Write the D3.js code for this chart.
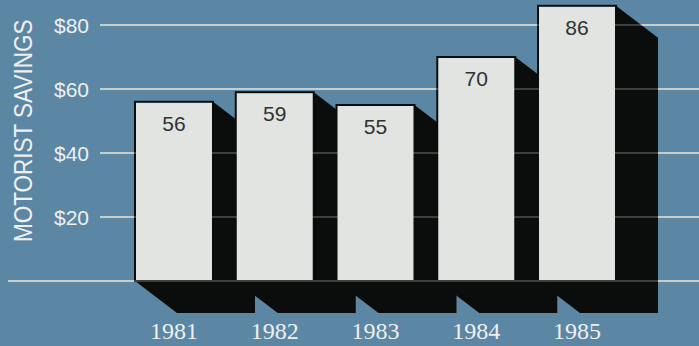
<!DOCTYPE html>
<html>
<head>
<meta charset="utf-8">
<script src="https://cdn.jsdelivr.net/npm/d3@7"></script>
<style>
  html, body { margin: 0; padding: 0; background: #5b86a4; }
  svg { display: block; }
</style>
</head>
<body>
<svg id="chart" width="699" height="346"></svg>
<script>
// ---- data ----
const years = ["1981", "1982", "1983", "1984", "1985"];
const savings = [56, 59, 55, 70, 86];
const tickValues = [20, 40, 60, 80];
const tickLabels = ["$20", "$40", "$60", "$80"];
const axisTitle = "MOTORIST SAVINGS";

const W = 699, H = 346;
const svg = d3.select("#chart");

svg.append("rect").attr("width", W).attr("height", H).attr("fill", "#5b86a4");

const x = d3.scaleBand().domain(years).range([135, 616]).paddingInner(0.226).paddingOuter(0);
const y = d3.scaleLinear().domain([0, 80]).range([281, 25]);

const dx = 42, dy = 32;
const data = years.map((yr, i) => ({ year: yr, value: savings[i] }));
const gridColor = "#ece6d6";

function drawGrid(g, opacity) {
  g.selectAll("line.grid").data(tickValues).join("line")
    .attr("class", "grid")
    .attr("x1", 100).attr("x2", W)
    .attr("y1", d => y(d)).attr("y2", d => y(d))
    .attr("stroke", gridColor).attr("stroke-width", 1.5).attr("opacity", opacity);
  g.append("line")
    .attr("x1", 8).attr("x2", W).attr("y1", y(0)).attr("y2", y(0))
    .attr("stroke", gridColor).attr("stroke-width", 1.5).attr("opacity", opacity);
}
drawGrid(svg.append("g"), 0.9);

// shadows
svg.append("g").selectAll("path").data(data).join("path")
  .attr("d", d => {
    const x0 = x(d.year), x1 = x(d.year) + x.bandwidth();
    const top = y(d.value), base = y(0);
    return `M${x0},${top}L${x1},${top}L${x1 + dx},${top + dy}L${x1 + dx},${base + dy}L${x0 + dx},${base + dy}L${x0},${base}Z`;
  })
  .attr("fill", "#0b0d0d");

// bars
svg.append("g").selectAll("rect").data(data).join("rect")
  .attr("x", d => x(d.year))
  .attr("y", d => y(d.value))
  .attr("width", x.bandwidth())
  .attr("height", d => y(0) - y(d.value))
  .attr("fill", "#e2e4e2")
  .attr("stroke", "#0b0d0d")
  .attr("stroke-width", 2);

// gridlines faint on top
drawGrid(svg.append("g"), 0.3);

// value labels
svg.append("g").selectAll("text").data(data).join("text")
  .attr("x", d => x(d.year) + x.bandwidth() / 2)
  .attr("y", d => y(d.value) + 29)
  .attr("text-anchor", "middle")
  .attr("font-family", "Liberation Sans, Arial, sans-serif")
  .attr("font-size", 21)
  .attr("fill", "#2e3234")
  .text(d => d.value);

// year labels
svg.append("g").selectAll("text").data(data).join("text")
  .attr("x", d => x(d.year) + x.bandwidth() / 2)
  .attr("y", 339)
  .attr("text-anchor", "middle")
  .attr("font-family", "Liberation Serif, serif")
  .attr("font-size", 24)
  .attr("fill", "#eef0ee")
  .text(d => d.year);

// y tick labels
svg.append("g").selectAll("text").data(tickValues).join("text")
  .attr("x", 89)
  .attr("y", d => y(d))
  .attr("dy", "0.36em")
  .attr("text-anchor", "end")
  .attr("font-family", "Liberation Sans, Arial, sans-serif")
  .attr("font-size", 21)
  .attr("fill", "#eef0ee")
  .text((d, i) => tickLabels[i]);

// axis title
svg.append("text")
  .attr("transform", "translate(32,242) rotate(-90) scale(1,1.15)")
  .attr("font-family", "Liberation Sans, Arial, sans-serif")
  .attr("font-size", 22.5)
  .attr("fill", "#eef0ee")
  .text(axisTitle);
</script>
</body>
</html>
